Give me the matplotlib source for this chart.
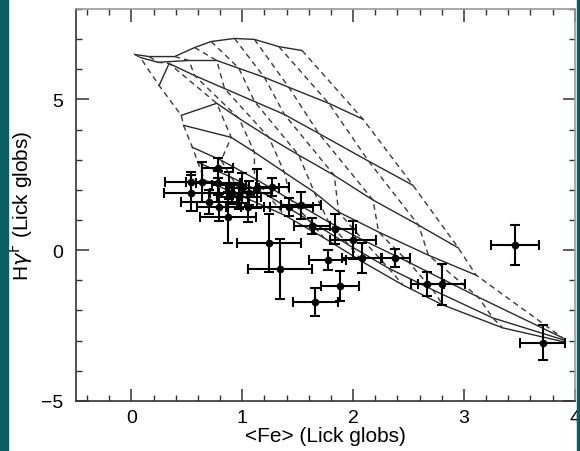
import matplotlib
matplotlib.use("Agg")
import matplotlib.pyplot as plt
from matplotlib.patches import Rectangle
from matplotlib.ticker import MultipleLocator

plt.rcParams['font.family'] = ['Liberation Sans', 'DejaVu Sans']

# model grid: each row is one solid line (age), column j of every row forms a dashed line
grid_fe = [
    [0.03, 0.16, 0.39, 0.57, 0.72, 0.93, 1.11, 1.33, 1.54],
    [0.08, 0.24, 0.52, 0.77, 0.97, 1.20, 1.42, 1.78, 2.09],
    [0.25, 0.34, 0.57, 0.84, 1.11, 1.38, 1.69, 2.14, 2.54],
    [0.45, 0.77, 0.97, 1.24, 1.51, 1.83, 2.18, 2.59, 2.95],
    [0.47, 0.90, 1.11, 1.38, 1.65, 1.87, 2.23, 2.68, 3.11],
    [0.55, 0.81, 1.11, 1.44, 1.78, 2.09, 2.50, 3.13, 3.89],
    [0.60, 0.90, 1.24, 1.60, 1.96, 2.32, 2.72, 3.26, 3.90],
    [0.66, 1.02, 1.38, 1.74, 2.09, 2.45, 2.81, 3.35, 3.91],
]
grid_hg = [
    [6.49, 6.42, 6.42, 6.72, 6.92, 7.02, 6.99, 6.75, 6.62],
    [6.39, 6.23, 6.29, 6.29, 6.03, 5.73, 5.40, 4.87, 4.34],
    [5.46, 6.19, 5.79, 5.36, 4.93, 4.50, 3.87, 2.95, 2.15],
    [4.47, 4.87, 4.37, 3.74, 3.15, 2.48, 1.66, 0.83, 0.07],
    [4.14, 3.74, 3.25, 2.58, 1.92, 1.26, 0.60, -0.17, -0.83],
    [3.41, 2.98, 2.38, 1.66, 0.93, 0.33, -0.40, -1.56, -2.91],
    [2.91, 2.42, 1.79, 0.99, 0.17, -0.60, -1.32, -2.25, -2.98],
    [2.32, 1.75, 1.16, 0.40, -0.40, -1.16, -1.82, -2.58, -3.05],
]

# globular clusters
gc_fe = [3.46, 3.71, 2.67, 2.80, 2.00, 2.08, 2.38, 1.24, 1.34, 1.66, 1.88, 1.77,
         1.84, 1.63, 1.53, 1.42, 1.27, 1.13, 1.06, 1.05, 0.97, 0.91, 0.88, 0.78,
         0.87, 0.79, 0.78, 0.70, 0.64, 0.54, 0.54, 1.00]
gc_fe_err = [0.22, 0.20, 0.15, 0.21, 0.21, 0.18, 0.13, 0.29, 0.29, 0.20, 0.17, 0.17,
             0.19, 0.16, 0.18, 0.22, 0.15, 0.20, 0.20, 0.20, 0.20, 0.20, 0.15, 0.20,
             0.25, 0.20, 0.14, 0.25, 0.15, 0.24, 0.25, 0.15]
gc_hg = [0.17, -3.08, -1.13, -1.13, 0.33, -0.26, -0.26, 0.23, -0.63, -1.72, -1.19, -0.33,
         0.70, 0.80, 1.49, 1.42, 2.09, 2.05, 1.89, 1.42, 1.75, 1.89, 2.15, 2.22,
         1.09, 1.42, 2.72, 1.59, 2.25, 2.25, 1.89, 2.05]
gc_hg_err = [0.67, 0.58, 0.40, 0.68, 0.63, 0.51, 0.31, 0.96, 1.00, 0.46, 0.51, 0.33,
             0.51, 0.27, 0.45, 0.30, 0.30, 0.65, 0.40, 0.50, 0.40, 0.35, 0.45, 0.40,
             0.85, 0.45, 0.33, 0.40, 0.66, 0.35, 0.60, 0.50]

fig = plt.figure(figsize=(5.8, 4.52), dpi=100)
ax = fig.add_axes([0.131, 0.111, 0.860, 0.867])

# teal frame strips of the slide
fig.patches.append(Rectangle((0, 0), 8 / 580, 1, transform=fig.transFigure,
                             color='#0b5e60', zorder=0))
fig.patches.append(Rectangle((577 / 580, 0), 3 / 580, 1, transform=fig.transFigure,
                             color='#0b5e60', zorder=0))

nrow = len(grid_fe)
ncol = len(grid_fe[0])
for i in range(nrow):
    ax.plot(grid_fe[i], grid_hg[i], color='#2a2a2a', lw=1.0, zorder=2)
for j in range(ncol):
    ax.plot([grid_fe[i][j] for i in range(nrow)], [grid_hg[i][j] for i in range(nrow)],
            color='#3a3a3a', lw=1.0, linestyle=(0, (4, 3)), zorder=2)

ax.errorbar(gc_fe, gc_hg, xerr=gc_fe_err, yerr=gc_hg_err, fmt='o', color='black',
            ms=4.5, elinewidth=1.5, capsize=3.5, capthick=1.5, zorder=3)

ax.set_xlim(-0.5, 4)
ax.set_ylim(-5, 8)
ax.xaxis.set_major_locator(MultipleLocator(1))
ax.xaxis.set_minor_locator(MultipleLocator(0.2))
ax.yaxis.set_major_locator(MultipleLocator(5))
ax.yaxis.set_minor_locator(MultipleLocator(1))
ax.tick_params(which='both', direction='in', top=True, right=True, colors='#333333',
               labelcolor='black', labelsize=14)
ax.tick_params(which='major', length=9, width=1.1)
ax.tick_params(axis='y', which='major', pad=9)
ax.tick_params(axis='x', which='major', pad=6)
ax.tick_params(which='minor', length=4.5, width=1.0)

for side in ['left', 'bottom']:
    ax.spines[side].set_color('#333333')
    ax.spines[side].set_linewidth(1.2)
for side in ['top', 'right']:
    ax.spines[side].set_color('#999999')
    ax.spines[side].set_linewidth(1.2)

ax.set_xlabel('<Fe> (Lick globs)', fontsize=15, labelpad=0)
ax.set_ylabel(r'H$\gamma^{\rm F}$ (Lick globs)', fontsize=15, labelpad=4)

fig.savefig('out.png', dpi=100)
